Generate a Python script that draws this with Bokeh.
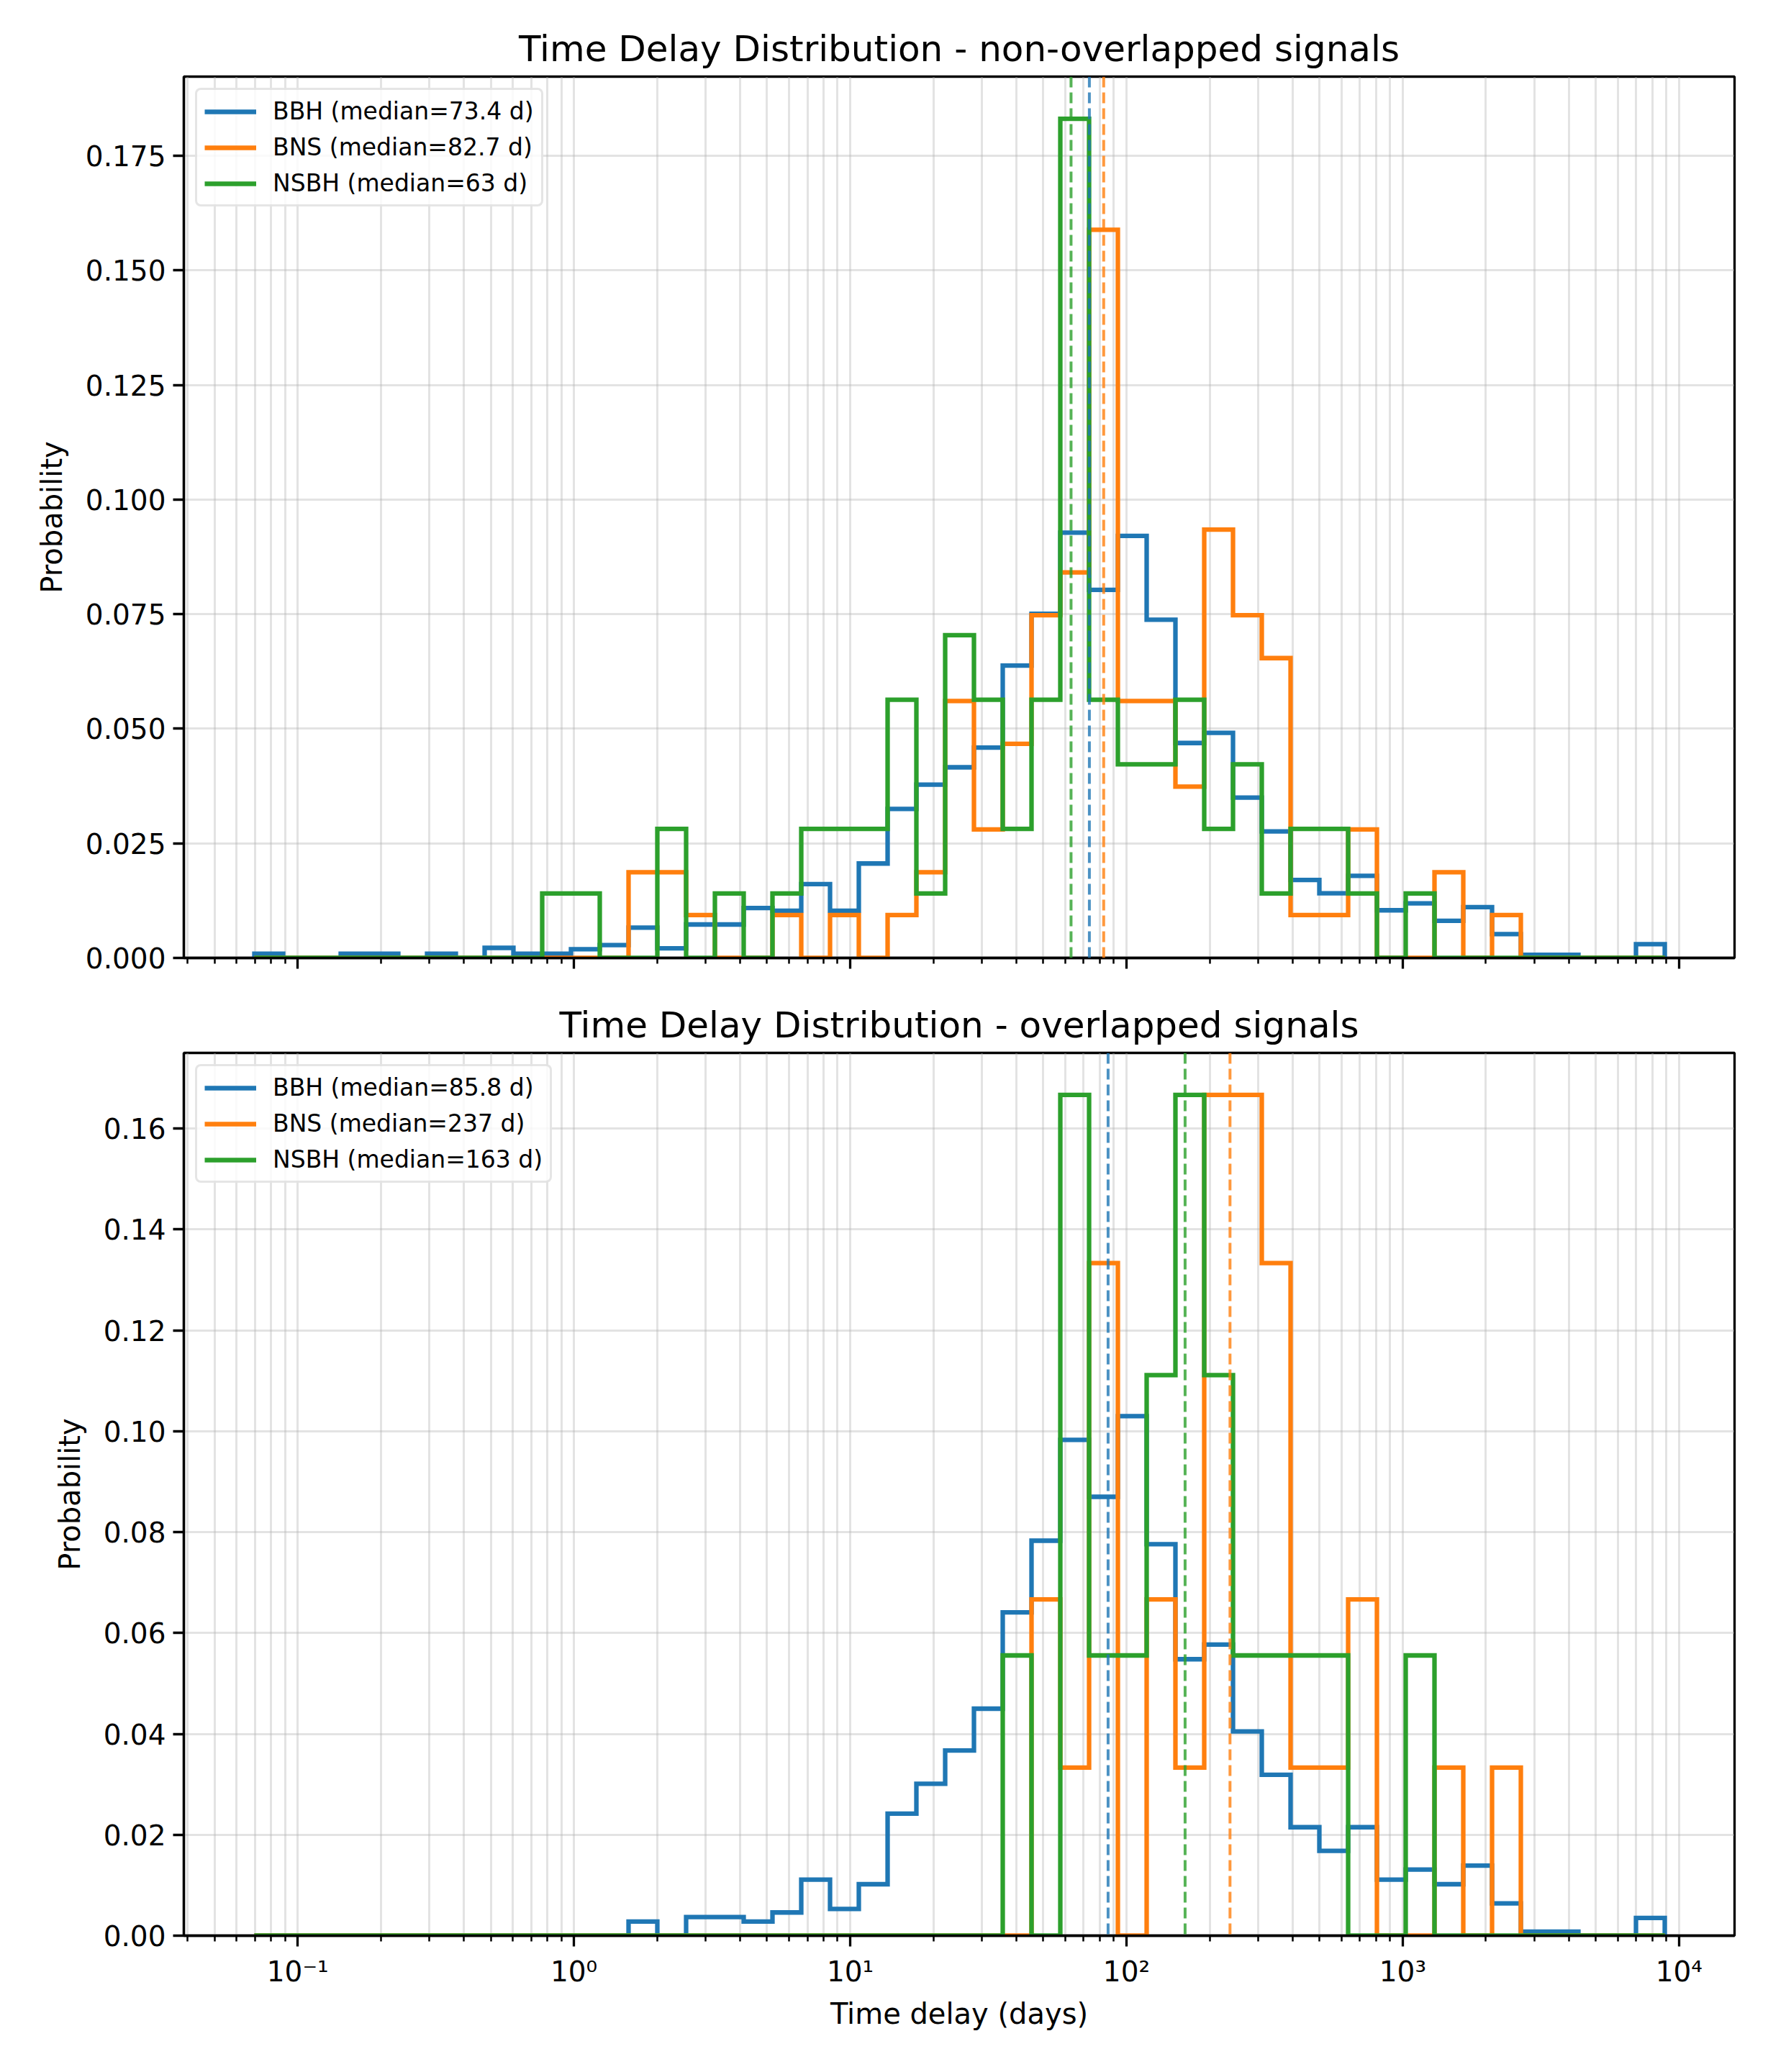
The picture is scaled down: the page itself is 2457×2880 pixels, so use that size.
import numpy as np
from bokeh.plotting import figure
from bokeh.layouts import column
from bokeh.models import (Range1d, FixedTicker, Span, Legend, LegendItem,
                          PrintfTickFormatter, CustomJSTickFormatter)
from bokeh.embed import file_html
from bokeh.resources import INLINE

FONT = "DejaVu Sans"
COLORS = {"BBH": "#1f77b4", "BNS": "#ff7f0e", "NSBH": "#2ca02c"}
SOURCES = ["BBH", "BNS", "NSBH"]

# log-spaced histogram bins (49 bins between the shortest and longest delay)
T_MIN, T_MAX, N_EDGES = 0.0697, 8880.0, 50
edges = np.logspace(np.log10(T_MIN), np.log10(T_MAX), N_EDGES)

# ---- non-overlapped signals ----
bbh_nonoverlap = [
    0.0009, 0.0, 0.0, 0.0009, 0.0009, 0.0, 0.0009, 0.0, 0.0022, 0.0009,
    0.0009, 0.0019, 0.0028, 0.0066, 0.0021, 0.0073, 0.0073, 0.0109, 0.0103, 0.0161,
    0.0103, 0.0206, 0.0325, 0.0378, 0.0416, 0.0459, 0.0638, 0.0751, 0.0928, 0.0803,
    0.0921, 0.0738, 0.0469, 0.0491, 0.0350, 0.0276, 0.0170, 0.0141, 0.0179, 0.0104,
    0.0119, 0.0081, 0.0111, 0.0052, 0.0007, 0.0007, 0.0, 0.0, 0.0030]
bns_nonoverlap_counts = [
    0, 0, 0, 0, 0, 0, 0, 0, 0, 0,
    0, 0, 0, 2, 2, 1, 0, 0, 1, 0,
    1, 0, 1, 2, 6, 3, 5, 8, 9, 17,
    6, 6, 4, 10, 8, 7, 1, 1, 3, 0,
    0, 2, 0, 1, 0, 0, 0, 0, 0]
nsbh_nonoverlap_counts = [
    0, 0, 0, 0, 0, 0, 0, 0, 0, 0,
    1, 1, 0, 0, 2, 0, 1, 0, 1, 2,
    2, 2, 4, 1, 5, 4, 2, 4, 13, 4,
    3, 3, 4, 2, 3, 1, 2, 2, 1, 0,
    1, 0, 0, 0, 0, 0, 0, 0, 0]
medians_nonoverlap = {"BBH": 73.4, "BNS": 82.7, "NSBH": 63.0}

# ---- overlapped signals ----
bbh_overlap = [
    0.0, 0.0, 0.0, 0.0, 0.0, 0.0, 0.0, 0.0, 0.0, 0.0,
    0.0, 0.0, 0.0, 0.0028, 0.0, 0.0037, 0.0037, 0.0028, 0.0046, 0.0111,
    0.0053, 0.0102, 0.0242, 0.0301, 0.0367, 0.0450, 0.0641, 0.0783, 0.0983, 0.0870,
    0.1030, 0.0776, 0.0548, 0.0577, 0.0405, 0.0319, 0.0215, 0.0168, 0.0215, 0.0111,
    0.0131, 0.0102, 0.0139, 0.0064, 0.0008, 0.0008, 0.0, 0.0, 0.0035]
bns_overlap_counts = [
    0, 0, 0, 0, 0, 0, 0, 0, 0, 0,
    0, 0, 0, 0, 0, 0, 0, 0, 0, 0,
    0, 0, 0, 0, 0, 0, 0, 2, 1, 4,
    0, 2, 1, 5, 5, 4, 1, 1, 2, 0,
    0, 1, 0, 1, 0, 0, 0, 0, 0]
nsbh_overlap_counts = [
    0, 0, 0, 0, 0, 0, 0, 0, 0, 0,
    0, 0, 0, 0, 0, 0, 0, 0, 0, 0,
    0, 0, 0, 0, 0, 0, 1, 0, 3, 1,
    1, 2, 3, 2, 1, 1, 1, 1, 0, 0,
    1, 0, 0, 0, 0, 0, 0, 0, 0]
medians_overlap = {"BBH": 85.8, "BNS": 237.0, "NSBH": 163.0}

x_major = [1e-1, 1e0, 1e1, 1e2, 1e3, 1e4]
x_minor = [m * 10.0 ** e for e in range(-2, 5) for m in range(2, 10)]


def normalise(counts):
    c = np.asarray(counts, float)
    return c / c.sum()


def step_xy(vals):
    v = np.asarray(vals, float)
    x = np.repeat(edges, 2)
    y = np.concatenate([[0.0], np.repeat(v, 2), [0.0]])
    return x, y


x_range = Range1d(10 ** -1.412, 10 ** 4.201)

sup_formatter = CustomJSTickFormatter(code="""
    const sup = {"-1": "\u207b\u00b9", "0": "\u2070", "1": "\u00b9",
                 "2": "\u00b2", "3": "\u00b3", "4": "\u2074"};
    const e = Math.round(Math.log10(tick));
    return "10" + sup[String(e)];
""")


def make_panel(title, series, medians, height, b_top, b_bottom, y_max,
               y_ticks, y_fmt, bottom_panel):
    p = figure(width=2457, height=height, x_axis_type="log",
               x_range=x_range, y_range=Range1d(0, y_max),
               output_backend="svg", toolbar_location=None,
               min_border_left=255, min_border_right=47,
               min_border_top=b_top, min_border_bottom=b_bottom,
               background_fill_color="white", border_fill_color="white")

    p.title.text = title
    p.title.text_font = FONT
    p.title.text_font_size = "50px"
    p.title.text_font_style = "normal"
    p.title.text_color = "black"
    p.title.align = "center"
    p.title.standoff = 20

    p.outline_line_color = "black"
    p.outline_line_width = 3.3

    # grid: major + minor vertical lines, major horizontal lines
    for g in (p.xgrid, p.ygrid):
        g.grid_line_color = "#b0b0b0"
        g.grid_line_alpha = 0.35
        g.grid_line_width = 3
    p.xgrid.minor_grid_line_color = "#b0b0b0"
    p.xgrid.minor_grid_line_alpha = 0.35
    p.xgrid.minor_grid_line_width = 3

    # x axis
    xa = p.xaxis[0]
    xa.ticker = FixedTicker(ticks=x_major, minor_ticks=x_minor)
    xa.formatter = sup_formatter
    xa.axis_line_width = 3.3
    xa.major_tick_out = 15
    xa.major_tick_in = 0
    xa.major_tick_line_width = 3.3
    xa.minor_tick_out = 8
    xa.minor_tick_in = 0
    xa.minor_tick_line_width = 2.5
    xa.major_label_text_font = FONT
    if bottom_panel:
        xa.major_label_text_font_size = "39px"
        xa.major_label_text_color = "black"
        xa.major_label_standoff = 12
        xa.axis_label = "Time delay (days)"
        xa.axis_label_text_font = FONT
        xa.axis_label_text_font_size = "40px"
        xa.axis_label_text_font_style = "normal"
        xa.axis_label_text_color = "black"
        xa.axis_label_standoff = 10
    else:
        # shared x axis: tick marks only, no tick labels
        xa.major_label_text_font_size = "0px"
        xa.major_label_text_color = None
        xa.major_label_standoff = 0

    # y axis
    ya = p.yaxis[0]
    ya.ticker = FixedTicker(ticks=y_ticks)
    ya.formatter = PrintfTickFormatter(format=y_fmt)
    ya.axis_line_width = 3.3
    ya.major_tick_out = 15
    ya.major_tick_in = 0
    ya.major_tick_line_width = 3.3
    ya.minor_tick_line_color = None
    ya.major_label_text_font = FONT
    ya.major_label_text_font_size = "39px"
    ya.major_label_text_color = "black"
    ya.major_label_standoff = 10
    ya.axis_label = "Probability"
    ya.axis_label_text_font = FONT
    ya.axis_label_text_font_size = "40px"
    ya.axis_label_text_font_style = "normal"
    ya.axis_label_text_color = "black"
    ya.axis_label_standoff = 21

    items = []
    for name, vals in series:
        x, y = step_xy(vals)
        r = p.line(x, y, line_color=COLORS[name], line_width=6.3,
                   line_join="miter")
        label = f"{name} (median={medians[name]:g} d)"
        items.append(LegendItem(label=label, renderers=[r]))

    for name in SOURCES:
        p.add_layout(Span(location=medians[name], dimension="height",
                          line_color=COLORS[name], line_width=4,
                          line_alpha=0.8, line_dash="15 7"))

    legend = Legend(items=items, location="top_left")
    legend.label_text_font = FONT
    legend.label_text_font_size = "33px"
    legend.label_text_color = "black"
    legend.glyph_width = 72
    legend.glyph_height = 34
    legend.label_height = 34
    legend.label_standoff = 23
    legend.spacing = 11
    legend.padding = 10
    legend.margin = 16
    legend.border_line_color = "#cccccc"
    legend.border_line_width = 3
    legend.background_fill_alpha = 0.8
    if "border_radius" in Legend.properties():
        legend.border_radius = 8
    p.add_layout(legend)
    return p


p1 = make_panel(
    "Time Delay Distribution - non-overlapped signals",
    [("BBH", bbh_nonoverlap),
     ("BNS", normalise(bns_nonoverlap_counts)),
     ("NSBH", normalise(nsbh_nonoverlap_counts))],
    medians_nonoverlap, 1361, 106, 30, 0.1923,
    [0.0, 0.025, 0.05, 0.075, 0.1, 0.125, 0.15, 0.175], "%.3f", False)

p2 = make_panel(
    "Time Delay Distribution - overlapped signals",
    [("BBH", bbh_overlap),
     ("BNS", normalise(bns_overlap_counts)),
     ("NSBH", normalise(nsbh_overlap_counts))],
    medians_overlap, 1519, 102, 190, 0.1750,
    [0.0, 0.02, 0.04, 0.06, 0.08, 0.10, 0.12, 0.14, 0.16], "%.2f", True)

layout = column(p1, p2, spacing=0)
open("out.html", "w").write(file_html(layout, INLINE))
